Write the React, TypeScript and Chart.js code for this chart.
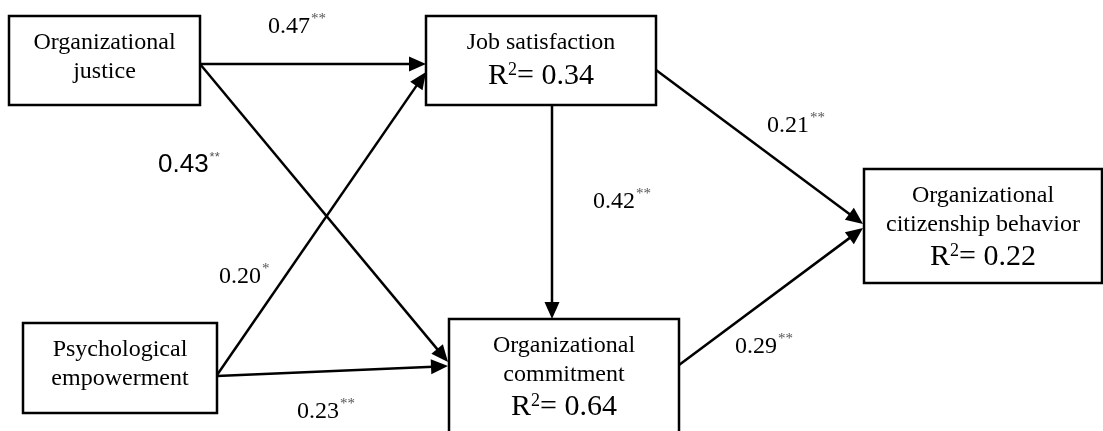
import React, { useEffect, useRef } from 'react';
import { Chart, registerables } from 'chart.js';

Chart.register(...registerables);

// ---- data ----
const nodeNames: string[][] = [
  ['Organizational', 'justice'],
  ['Job satisfaction'],
  ['Organizational', 'citizenship behavior'],
  ['Psychological', 'empowerment'],
  ['Organizational', 'commitment'],
];
const nodeR2: (number | null)[] = [null, 0.34, 0.22, null, 0.64];
const pathFrom = [0, 0, 3, 3, 1, 1, 4];
const pathTo = [1, 4, 1, 4, 4, 2, 2];
const pathCoef = [0.47, 0.43, 0.2, 0.23, 0.42, 0.21, 0.29];
const pathSig = ['**', '**', '*', '**', '**', '**', '**'];

// ---- layout (diagram units) ----
const boxLeft = [9, 426, 864, 23, 449];
const boxTop = [16, 16, 169, 323, 319];
const boxRight = [200, 656, 1102, 217, 679];
const boxBottom = [105, 105, 283, 413, 460];
const pathStart = [[200, 64], [200, 64], [217, 375], [217, 376], [552, 105], [656, 70], [679, 365]];
const pathEnd = [[426, 64], [448, 362], [426, 72], [448, 366], [552, 319], [863, 224], [863, 228]];
const labelAt = [[268, 33], [158, 172], [219, 283], [297, 418], [593, 208], [767, 132], [735, 353]];
const labelSans = [false, true, false, false, false, false, false];

const SERIF = '"Liberation Serif", "Times New Roman", serif';
const SANS = '"Liberation Sans", Arial, sans-serif';
const HEAD_LEN = 17;
const HEAD_HALF = 7.5;
const LINE_W = 2.5;

function shorten(i: number) {
  const [x0, y0] = pathStart[i];
  const [x1, y1] = pathEnd[i];
  const dx = x1 - x0, dy = y1 - y0;
  const L = Math.hypot(dx, dy);
  return { x: x1 - (dx / L) * 9, y: y1 - (dy / L) * 9 };
}

const diagramPlugin = {
  id: 'diagram',
  beforeDatasetsDraw(chart: any) {
    const { ctx, scales } = chart;
    const X = (v: number) => scales.x.getPixelForValue(v);
    const Y = (v: number) => scales.y.getPixelForValue(v);
    ctx.save();
    ctx.lineWidth = LINE_W;
    ctx.strokeStyle = '#000';
    ctx.fillStyle = '#fff';
    for (let i = 0; i < nodeNames.length; i++) {
      const l = X(boxLeft[i]), t = Y(boxTop[i]);
      const w = X(boxRight[i]) - l, h = Y(boxBottom[i]) - t;
      ctx.fillRect(l, t, w, h);
      ctx.strokeRect(l, t, w, h);
    }
    ctx.restore();
  },
  afterDatasetsDraw(chart: any) {
    const { ctx, scales } = chart;
    const X = (v: number) => scales.x.getPixelForValue(v);
    const Y = (v: number) => scales.y.getPixelForValue(v);
    ctx.save();
    // arrowheads
    ctx.fillStyle = '#000';
    for (let i = 0; i < pathFrom.length; i++) {
      const x0 = X(pathStart[i][0]), y0 = Y(pathStart[i][1]);
      const x1 = X(pathEnd[i][0]), y1 = Y(pathEnd[i][1]);
      const a = Math.atan2(y1 - y0, x1 - x0);
      const bx = x1 - Math.cos(a) * HEAD_LEN, by = y1 - Math.sin(a) * HEAD_LEN;
      ctx.beginPath();
      ctx.moveTo(x1, y1);
      ctx.lineTo(bx + Math.sin(a) * HEAD_HALF, by - Math.cos(a) * HEAD_HALF);
      ctx.lineTo(bx - Math.sin(a) * HEAD_HALF, by + Math.cos(a) * HEAD_HALF);
      ctx.closePath();
      ctx.fill();
    }
    // node text
    ctx.textBaseline = 'alphabetic';
    for (let i = 0; i < nodeNames.length; i++) {
      const cx = (X(boxLeft[i]) + X(boxRight[i])) / 2;
      let by = Y(boxTop[i]) + 33;
      ctx.fillStyle = '#000';
      ctx.font = `24px ${SERIF}`;
      ctx.textAlign = 'center';
      nodeNames[i].forEach((line, k) => {
        if (k > 0) by += 28.5;
        ctx.fillText(line, cx, by);
      });
      const r2 = nodeR2[i];
      if (r2 !== null) {
        by += 34.5;
        ctx.textAlign = 'left';
        const bigFont = `30px ${SERIF}`;
        const supFont = `18px ${SERIF}`;
        const rest = '= ' + r2.toFixed(2);
        ctx.font = bigFont;
        const wR = ctx.measureText('R').width;
        const wRest = ctx.measureText(rest).width;
        ctx.font = supFont;
        const wS = ctx.measureText('2').width;
        let x = cx - (wR + wS + wRest) / 2;
        ctx.font = bigFont;
        ctx.fillText('R', x, by);
        x += wR;
        ctx.font = supFont;
        ctx.fillText('2', x, by - 9);
        x += wS;
        ctx.font = bigFont;
        ctx.fillText(rest, x, by);
      }
    }
    // path labels
    ctx.textAlign = 'left';
    for (let i = 0; i < pathCoef.length; i++) {
      const x = X(labelAt[i][0]), y = Y(labelAt[i][1]);
      const sans = labelSans[i];
      ctx.fillStyle = '#000';
      ctx.font = sans ? `26px ${SANS}` : `24px ${SERIF}`;
      const txt = pathCoef[i].toFixed(2);
      ctx.fillText(txt, x, y);
      const w = ctx.measureText(txt).width;
      ctx.fillStyle = '#555';
      ctx.font = sans ? `13px ${SANS}` : `15px ${SERIF}`;
      ctx.textBaseline = 'top';
      ctx.fillText(pathSig[i], x + w + 1, y - 21);
      ctx.textBaseline = 'alphabetic';
    }
    ctx.restore();
  },
};

export default function App() {
  const ref = useRef<HTMLCanvasElement | null>(null);
  useEffect(() => {
    document.body.style.margin = '0';
    if (!ref.current) return;
    const datasets = pathFrom.map((_, i) => ({
      label: `path${i}`,
      data: [{ x: pathStart[i][0], y: pathStart[i][1] }, shorten(i)],
      showLine: true,
      borderColor: '#000',
      borderWidth: LINE_W,
      pointRadius: 0,
      fill: false,
    }));
    const chart = new Chart(ref.current, {
      type: 'scatter',
      data: { datasets },
      options: {
        animation: false,
        responsive: false,
        maintainAspectRatio: false,
        layout: { padding: 0 },
        events: [],
        plugins: { legend: { display: false }, tooltip: { enabled: false }, title: { display: false } },
        scales: {
          x: { type: 'linear', min: 0, max: 1103, display: false },
          y: { type: 'linear', min: 0, max: 431, reverse: true, display: false },
        },
      },
      plugins: [diagramPlugin],
    });
    return () => chart.destroy();
  }, []);
  return (
    <div style={{ position: 'fixed', left: 0, top: 0, width: 1103, height: 431, background: '#fff' }}>
      <canvas ref={ref} width={1103} height={431} style={{ display: 'block' }} />
    </div>
  );
}
